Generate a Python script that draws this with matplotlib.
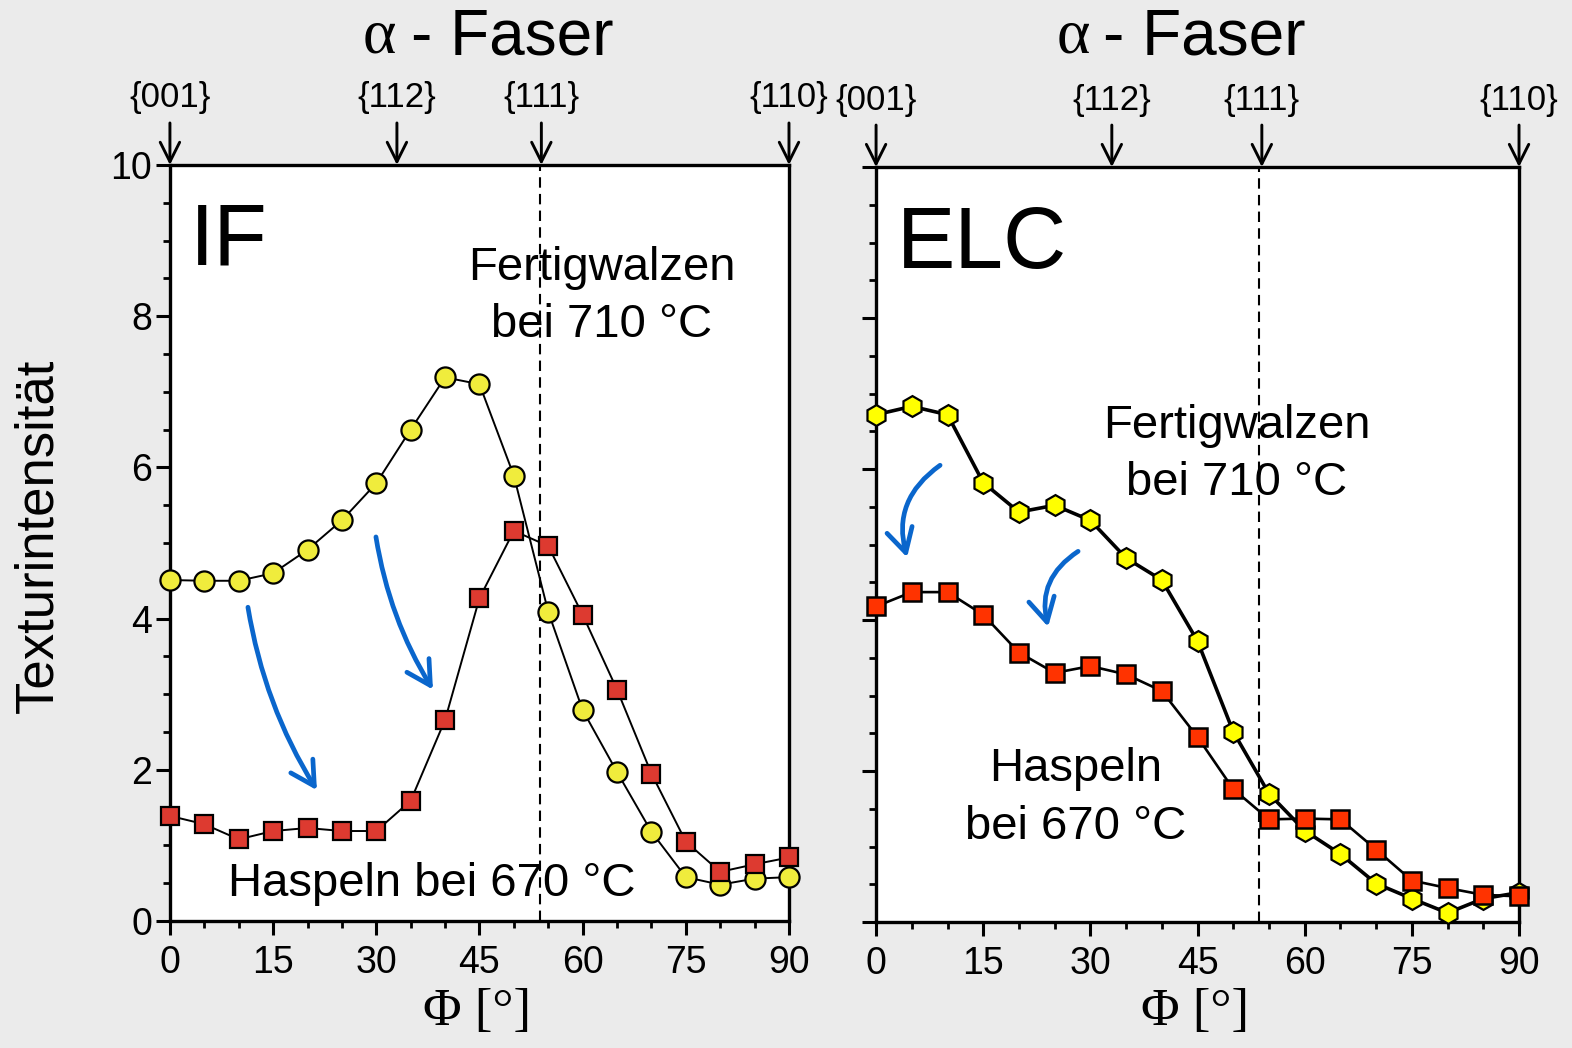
import numpy as np
import matplotlib.pyplot as plt

# Phi angles along the alpha fibre
phi = [0, 5, 10, 15, 20, 25, 30, 35, 40, 45, 50, 55, 60, 65, 70, 75, 80, 85, 90]

# IF steel
if_fertig = [4.51, 4.5, 4.5, 4.6, 4.91, 5.3, 5.79, 6.5, 7.19, 7.1, 5.89, 4.09,
             2.79, 1.97, 1.18, 0.58, 0.48, 0.56, 0.58]
if_haspel = [1.39, 1.28, 1.08, 1.19, 1.23, 1.19, 1.19, 1.59, 2.66, 4.27, 5.16, 4.96,
             4.05, 3.06, 1.95, 1.05, 0.65, 0.75, 0.84]

# ELC steel
elc_fertig = [6.72, 6.83, 6.72, 5.82, 5.43, 5.52, 5.32, 4.82, 4.53, 3.72, 2.52, 1.70,
              1.21, 0.90, 0.51, 0.31, 0.12, 0.31, 0.39]
elc_haspel = [4.18, 4.37, 4.37, 4.07, 3.57, 3.30, 3.39, 3.28, 3.06, 2.45, 1.76, 1.36,
              1.37, 1.36, 0.96, 0.55, 0.45, 0.36, 0.34]

# ideal orientations marked on top of each panel
fibre_pos = [0, 33, 54, 90]
fibre_labels = ['{001}', '{112}', '{111}', '{110}']

bg = '#ebebeb'
sans = ['Liberation Sans', 'DejaVu Sans']
serif = ['Liberation Serif', 'DejaVu Serif']
plt.rcParams['font.family'] = sans

fig = plt.figure(figsize=(15.72, 10.48), dpi=100, facecolor=bg)
ax1 = fig.add_axes([0.1081, 0.1212, 0.3938, 0.7214])
ax2 = fig.add_axes([0.5573, 0.1202, 0.4090, 0.7204])


def style_axes(ax, show_ylabels):
    ax.set_xlim(0, 90)
    ax.set_ylim(0, 10)
    ax.set_facecolor('white')
    for s in ax.spines.values():
        s.set_linewidth(2.4)
    ax.set_xticks(range(0, 91, 15))
    ax.set_xticks(np.arange(0, 91, 5), minor=True)
    ax.set_yticks(range(0, 11, 2))
    ax.set_yticks(np.arange(0, 10.01, 0.5), minor=True)
    ax.tick_params(which='major', direction='out', length=10, width=2.2,
                   labelsize=27, top=False, right=False)
    ax.tick_params(which='minor', direction='out', length=5, width=2.0,
                   top=False, right=False)
    ax.tick_params(axis='x', pad=7)
    ax.tick_params(axis='y', pad=3)
    if not show_ylabels:
        ax.set_yticklabels([])
    ax.set_xlabel('Φ [°]', family=serif, fontsize=38)
    ax.xaxis.set_label_coords(0.496, -0.088)


def draw_fibre_arrows(ax, top_h):
    trans = ax.get_xaxis_transform()
    for x, lab in zip(fibre_pos, fibre_labels):
        ax.annotate('', xy=(x, 1.0), xycoords=trans,
                    xytext=(x, 1.0 + 42 / top_h), textcoords=trans,
                    arrowprops=dict(arrowstyle='->,head_length=1.0,head_width=0.5',
                                    lw=2.1, color='black', shrinkA=0, shrinkB=0,
                                    mutation_scale=14),
                    annotation_clip=False)
        ax.text(x, 1.0 + 67 / top_h, lab, transform=trans, ha='center', va='center',
                fontsize=25, clip_on=False)


def blue_arrow(ax, start, end, rad):
    ax.annotate('', xy=end, xytext=start,
                arrowprops=dict(arrowstyle='->,head_length=1.0,head_width=0.55',
                                lw=3.4, color='#0a66cc', shrinkA=0, shrinkB=0,
                                mutation_scale=17,
                                connectionstyle='arc3,rad=%s' % rad))


# --- IF panel ---
style_axes(ax1, True)
ax1.axvline(53.8, color='black', lw=1.5, ls=(0, (5, 3)), zorder=1)
ax1.plot(phi, if_fertig, color='black', lw=1.4, marker='o', ms=14.5,
         mfc='#f0ec3c', mec='black', mew=1.6, clip_on=False, zorder=4)
ax1.plot(phi, if_haspel, color='black', lw=1.4, marker='s', ms=12.5,
         mfc='#dd3a30', mec='black', mew=1.6, clip_on=False, zorder=5)
ax1.text(2.9, 8.68, 'IF', fontsize=63, ha='left', va='baseline')
ax1.text(62.8, 8.26, 'Fertigwalzen\nbei 710 °C', fontsize=34, ha='center',
         va='center', multialignment='center', linespacing=1.4)
ax1.text(38.1, 0.49, 'Haspeln bei 670 °C', fontsize=34, ha='center', va='center')
blue_arrow(ax1, (11.34, 4.15), (21.37, 1.73), 0.1)
blue_arrow(ax1, (29.95, 5.08), (38.24, 3.06), 0.1)
draw_fibre_arrows(ax1, 756)
ax1.text(32.9, 1.168, 'α', transform=ax1.get_xaxis_transform(), ha='right',
         va='center', fontsize=46, family=serif)
ax1.text(35.0, 1.168, '- Faser', transform=ax1.get_xaxis_transform(), ha='left',
         va='center', fontsize=46)

# --- ELC panel ---
style_axes(ax2, False)
ax2.axvline(53.6, color='black', lw=1.5, ls=(0, (5, 3)), zorder=1)
ax2.plot(phi, elc_fertig, color='black', lw=2.6, marker='h', ms=15,
         mfc='#ffff00', mec='black', mew=1.6, clip_on=False, zorder=4)
ax2.plot(phi, elc_haspel, color='black', lw=1.9, marker='s', ms=13.5,
         mfc='#ff3300', mec='black', mew=1.8, clip_on=False, zorder=5)
ax2.text(2.9, 8.66, 'ELC', fontsize=63, ha='left', va='baseline')
ax2.text(50.5, 6.19, 'Fertigwalzen\nbei 710 °C', fontsize=34, ha='center',
         va='center', multialignment='center', linespacing=1.4)
ax2.text(27.9, 1.64, 'Haspeln\nbei 670 °C', fontsize=34, ha='center',
         va='center', multialignment='center', linespacing=1.4)
blue_arrow(ax2, (8.96, 6.05), (4.34, 4.83), 0.35)
blue_arrow(ax2, (28.28, 4.91), (24.08, 3.91), 0.35)
draw_fibre_arrows(ax2, 755)
ax2.text(29.9, 1.171, 'α', transform=ax2.get_xaxis_transform(), ha='right',
         va='center', fontsize=46, family=serif)
ax2.text(31.8, 1.171, '- Faser', transform=ax2.get_xaxis_transform(), ha='left',
         va='center', fontsize=46)

fig.text(38 / 1572, 1 - 536 / 1048, 'Texturintensität', rotation=90,
         ha='center', va='center', fontsize=38)

fig.savefig('out.png', dpi=100, facecolor=bg)
